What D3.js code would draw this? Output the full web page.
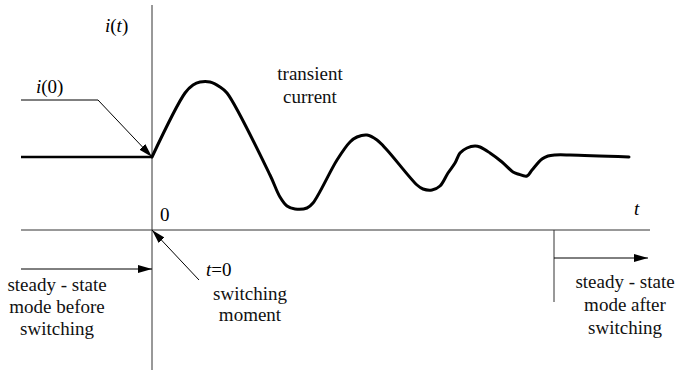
<!DOCTYPE html>
<html><head><meta charset="utf-8">
<script src="https://cdn.jsdelivr.net/npm/d3@7"></script>
</head><body style="margin:0">
<script>
// transient current i(t), time units (t=0 is the switching moment)
const tVals = [0,3.3,4.1,4.8,5.8,6.8,7.5,11.8,12.8,13.5,14.3,15.5,16.1,18.5,19.8,20.5,21.5,22.5,23.5,26.5,27.1,28.0,28.8,29.6,30.3,30.8,31.5,32.3,32.8,33.8,35.0,36.1,36.6,37.5,38.0,39.0,39.6,40.3,41.8,47.7];
const iVals = [7.3,13.7,14.5,14.8,14.8,14.3,13.7,5.5,3.3,2.4,2.1,2.2,2.7,7.0,8.8,9.3,9.5,9.0,8.0,4.5,4.1,4.0,4.4,5.7,6.7,7.7,8.2,8.4,8.3,7.7,6.8,5.8,5.6,5.4,6.0,7.1,7.4,7.5,7.5,7.3];
// steady state before switching
const tBefore = [-13.1, 0];
const iBefore = [7.3, 7.3];
const steadyEnd = 40.2;   // start of steady-state mode after switching
const i0 = 7.3;
const leftLabel = ["steady - state","mode before","switching"];
const rightLabel = ["steady - state","mode after","switching"];
const momentLabel = ["switching","moment"];
const curveLabel = ["transient","current"];

const W = 681, H = 374;
const FF = "Liberation Serif";
const svg = d3.select("body").append("svg").attr("width", W).attr("height", H)
  .attr("font-family", FF).style("display","block");

const x = d3.scaleLinear().domain([-13.1, 49.8]).range([21, 650]);
const y = d3.scaleLinear().domain([0, 10]).range([230, 130]);

const fs = 19;
function mathLabel(xp, yp, parts) {
  const t = svg.append("text").attr("x", xp).attr("y", yp).attr("font-size", fs).attr("font-family", FF);
  parts.forEach(p => t.append("tspan").text(p[0]).attr("font-style", p[1] ? "italic" : "normal"));
  return t;
}
function block(cx, ys, lines) {
  lines.forEach((s,k) => svg.append("text").attr("x", cx).attr("y", ys[k]).attr("font-family", FF)
    .attr("text-anchor","middle").attr("font-size", fs).attr("fill","#111").text(s));
}
block(310, [80, 103], curveLabel);
block(250, [300, 321], momentLabel);
block(57, [291, 313, 335], leftLabel);
block(625, [288, 311, 334], rightLabel);
mathLabel(105, 32, [["i",1],["(",0],["t",1],[")",0]]);
mathLabel(36, 93, [["i",1],["(0)",0]]);
mathLabel(206, 276, [["t",1],["=0",0]]);
mathLabel(160, 221, [["0",0]]);
mathLabel(634, 215, [["t",1]]);

const defs = svg.append("defs");
defs.append("marker").attr("id","arr").attr("viewBox","0 0 14 8")
  .attr("refX",14).attr("refY",4).attr("markerWidth",14).attr("markerHeight",8)
  .attr("markerUnits","userSpaceOnUse").attr("orient","auto")
  .append("path").attr("d","M0,0 L14,4 L0,8 Z").attr("fill","#000");

const axisColor = "#333";
svg.append("line").attr("x1", x(0)).attr("x2", x(0)).attr("y1", 5).attr("y2", 370)
  .attr("stroke", axisColor).attr("stroke-width", 1);
svg.append("line").attr("x1", x(-13.1)).attr("x2", x(49.8)).attr("y1", y(0)).attr("y2", y(0))
  .attr("stroke", axisColor).attr("stroke-width", 1);
svg.append("line").attr("x1", x(steadyEnd)).attr("x2", x(steadyEnd)).attr("y1", y(0)).attr("y2", 302)
  .attr("stroke", axisColor).attr("stroke-width", 1);
svg.append("line").attr("x1", x(steadyEnd)).attr("x2", 648).attr("y1", 258).attr("y2", 258)
  .attr("stroke", "#000").attr("stroke-width", 1).attr("marker-end","url(#arr)");
svg.append("line").attr("x1", x(-13.1)).attr("x2", x(0)).attr("y1", 269).attr("y2", 269)
  .attr("stroke", "#000").attr("stroke-width", 1).attr("marker-end","url(#arr)");
svg.append("line").attr("x1", 199).attr("y1", 280).attr("x2", x(0)).attr("y2", y(0))
  .attr("stroke", "#000").attr("stroke-width", 1).attr("marker-end","url(#arr)");
svg.append("polyline").attr("points", `21,100 98,100 ${x(0)},${y(i0)}`)
  .attr("fill","none").attr("stroke", "#000").attr("stroke-width", 1).attr("marker-end","url(#arr)");

const line = d3.line().x(d => x(d[0])).y(d => y(d[1])).curve(d3.curveCatmullRom.alpha(0.5));
svg.append("path").datum(tBefore.map((t,k)=>[t,iBefore[k]])).attr("d", line)
  .attr("fill","none").attr("stroke","#000").attr("stroke-width",2.6);
svg.append("path").datum(tVals.map((t,k)=>[t,iVals[k]])).attr("d", line)
  .attr("fill","none").attr("stroke","#000").attr("stroke-width",3)
  .attr("stroke-linejoin","round").attr("stroke-linecap","round");
</script>
</body></html>
